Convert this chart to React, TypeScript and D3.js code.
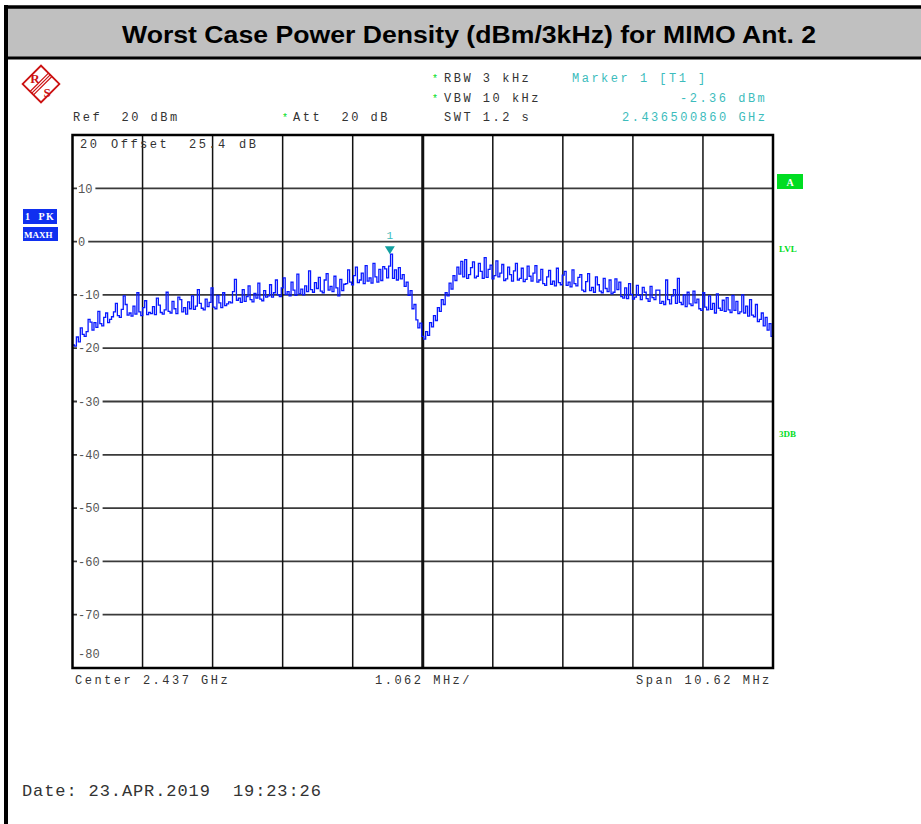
import * as d3 from 'd3';

// spectrum analyser screen: R&S style, ref 20 dBm, 10 dB/div, span 10.62 MHz
const title = 'Worst Case Power Density (dBm/3kHz) for MIMO Ant. 2';
const levelTicks = [10, 0, -10, -20, -30, -40, -50, -60, -70];
const spanMHz = 10.62;
const divMHz = 1.062;
const refLevel = 20;
const bottomLevel = -80;

// trace, max hold (dBm), left to right across the span
const traceLevels = [
  -19.4, -19.6, -17.9, -18.8, -16.2, -17.4, -17.8, -16.9, -14.6, -15.1, -16.6, -15.2, -16.1, -13.1, -15.4, -15.8, -14.2, -13.4, -15.2, -14.6,
  -14.1, -13.2, -11.6, -13.9, -14.2, -12.7, -10.2, -11.8, -13.8, -13.4, -14.0, -12.1, -13.6, -9.6, -13.2, -13.9, -12.4, -11.1, -13.7, -13.3,
  -13.5, -12.2, -13.7, -10.6, -11.9, -13.3, -13.6, -12.8, -9.5, -13.1, -13.4, -11.2, -12.6, -13.5, -10.4, -10.9, -13.2, -12.4, -13.6, -11.3,
  -12.6, -10.2, -12.7, -12.1, -9.0, -11.6, -12.5, -12.8, -10.8, -12.2, -11.4, -8.7, -12.3, -12.6, -10.1, -11.5, -12.4, -9.6, -12.0, -11.7,
  -11.3, -11.5, -9.4, -7.1, -11.0, -10.6, -11.4, -9.0, -11.2, -10.3, -8.3, -10.9, -11.3, -9.7, -10.6, -7.8, -10.8, -11.1, -9.2, -10.4,
  -10.2, -8.1, -10.4, -9.6, -7.2, -10.0, -10.3, -8.7, -6.8, -9.9, -9.4, -10.2, -7.6, -9.1, -10.1, -6.1, -9.8, -8.9, -10.0, -8.3,
  -9.4, -5.5, -9.0, -9.5, -7.7, -8.8, -6.7, -9.3, -9.6, -7.2, -6.0, -9.1, -8.4, -9.4, -6.5, -8.7, -10.2, -7.1, -9.2, -8.0,
  -7.9, -5.3, -7.6, -8.1, -6.4, -4.8, -7.7, -7.2, -5.9, -7.9, -4.5, -7.4, -6.8, -7.8, -4.1, -6.6, -7.6, -5.2, -7.3, -4.7,
  -5.1, -6.8, -4.6, -2.36, -6.9, -5.3, -7.2, -4.9, -7.0, -6.2, -8.4, -7.6, -10.1, -9.2, -12.6, -11.8, -14.7, -16.2, -15.3, -17.8,
  -18.3, -16.9, -17.6, -15.2, -16.0, -13.9, -14.8, -12.4, -13.1, -10.9, -11.8, -9.6, -10.2, -7.8, -8.9, -6.4, -7.3, -4.8, -6.1, -3.7,
  -6.6, -3.4, -6.9, -6.2, -4.9, -3.8, -6.8, -6.5, -4.1, -5.6, -6.9, -3.0, -6.7, -5.2, -4.4, -7.0, -6.4, -3.6, -6.6, -5.9,
  -4.3, -7.3, -7.0, -4.8, -6.2, -7.4, -5.5, -4.1, -7.2, -6.9, -5.0, -7.5, -7.1, -4.6, -6.5, -7.4, -5.9, -4.5, -7.6, -7.2,
  -5.2, -7.9, -8.2, -6.6, -5.4, -8.0, -7.4, -8.3, -5.0, -7.7, -8.1, -6.3, -5.6, -8.2, -7.6, -8.5, -5.3, -7.9, -8.3, -6.7,
  -6.2, -9.1, -9.4, -7.5, -6.0, -9.2, -8.6, -9.5, -6.6, -8.1, -9.3, -9.6, -6.9, -8.8, -9.4, -7.2, -9.8, -9.5, -7.0, -9.0,
  -7.6, -10.3, -10.6, -8.7, -10.7, -7.9, -9.9, -10.8, -10.4, -8.2, -10.1, -10.9, -8.6, -9.5, -10.7, -11.2, -8.4, -10.5, -10.9, -9.1,
  -9.1, -11.6, -11.2, -11.8, -7.2, -10.9, -11.7, -10.2, -9.0, -11.6, -6.9, -11.4, -11.8, -10.0, -12.2, -9.5, -11.7, -12.0, -9.3, -11.5,
  -10.8, -12.6, -12.9, -9.6, -12.3, -12.8, -10.2, -12.7, -11.6, -13.4, -9.8, -12.5, -12.9, -11.0, -13.1, -10.5, -12.8, -13.3, -10.1, -12.9,
  -11.2, -13.5, -13.2, -10.0, -13.4, -12.1, -14.0, -10.9, -13.8, -14.1, -11.8, -15.0, -14.6, -13.4, -15.8, -14.2, -16.6, -15.4, -17.8, -20.6,
];

// marker 1 at 2.436500860 GHz, centre 2.437 GHz -> offset in MHz
const markerOffsetMHz = -0.49914;
const markerLevel = -2.36;

const mono = "'Liberation Mono', 'Courier New', monospace";
const serif = "'Liberation Serif', 'Times New Roman', serif";
const hdrColor = '#333333';
const teal = '#3cbcbc';
const green = '#00dd22';
const traceBlue = '#0818ff';
const logoRed = '#cc1111';

export default function App() {
  const width = 921;
  const height = 824;
  const plot = { left: 72.5, right: 773, top: 135, bottom: 668 };

  const x = d3.scaleLinear().domain([-spanMHz / 2, spanMHz / 2]).range([plot.left, plot.right]);
  const y = d3.scaleLinear().domain([bottomLevel, refLevel]).range([plot.bottom, plot.top]);

  const n = traceLevels.length;
  const freqs = traceLevels.map((_, i) => -spanMHz / 2 + (i * spanMHz) / (n - 1));
  const line = d3.line<number>()
    .x((_, i) => x(freqs[i]))
    .y(d => y(d))
    .curve(d3.curveStepAfter);

  const vDivs = d3.range(1, 10).map(k => -spanMHz / 2 + k * divMHz);

  const hdr = { fontFamily: mono, fontSize: 12, letterSpacing: 2.5, fill: hdrColor, whiteSpace: 'pre' as const };
  const lbl = { fontFamily: mono, fontSize: 12, fill: '#555555' };
  const star = { fontFamily: mono, fontSize: 10 };

  const mx = x(markerOffsetMHz);
  const my = y(markerLevel);

  return (
    <svg width={width} height={height} style={{ position: 'absolute', left: 0, top: 0, background: '#fff' }}>
      {/* frame + title band */}
      <rect x={0} y={0} width={width} height={height} fill="#fff" />
      <rect x={7} y={8} width={width} height={50} fill="#c0c0c0" />
      <line x1={4} x2={width} y1={7} y2={7} stroke="#000" strokeWidth={3.5} />
      <line x1={4} x2={width} y1={58} y2={58} stroke="#000" strokeWidth={3} />
      <line x1={6} x2={6} y1={5} y2={height} stroke="#000" strokeWidth={4} />
      <text x={469} y={42.5} textAnchor="middle" textLength={694} lengthAdjust="spacingAndGlyphs"
        style={{ fontFamily: "'Liberation Sans', Arial, sans-serif", fontWeight: 'bold', fontSize: 23.5 }} fill="#000">
        {title}
      </text>

      {/* R&S logo */}
      <g transform="translate(41,84) rotate(45)">
        <rect x={-13} y={-13} width={26} height={26} fill="none" stroke={logoRed} strokeWidth={1.8} />
        {[-2.4, 0, 2.4].map(s => (
          <line key={s} x1={s} x2={s} y1={-13} y2={13} stroke={logoRed} strokeWidth={1.2} />
        ))}
      </g>
      <text x={35} y={83} textAnchor="middle" style={{ fontFamily: serif, fontWeight: 'bold', fontSize: 13 }} fill={logoRed}>R</text>
      <text x={47} y={97} textAnchor="middle" style={{ fontFamily: serif, fontWeight: 'bold', fontSize: 13 }} fill={logoRed}>S</text>

      {/* header */}
      <text x={432} y={82} style={star} fill={green}>*</text>
      <text x={444} y={82} style={hdr}>RBW 3 kHz</text>
      <text x={432} y={102} style={star} fill={green}>*</text>
      <text x={444} y={102} style={hdr}>VBW 10 kHz</text>
      <text x={73} y={121} style={hdr}>Ref  20 dBm</text>
      <text x={282} y={121} style={star} fill={green}>*</text>
      <text x={293} y={121} style={hdr}>Att  20 dB</text>
      <text x={444} y={121} style={hdr}>SWT 1.2 s</text>
      <text x={572} y={82} style={{ ...hdr, fill: teal }}>Marker 1 [T1 ]</text>
      <text x={680} y={102} style={{ ...hdr, fill: teal }}>-2.36 dBm</text>
      <text x={622} y={121} style={{ ...hdr, fill: teal }}>2.436500860 GHz</text>

      {/* trace labels on the left */}
      <rect x={23} y={209} width={34} height={15} fill="#1030f0" />
      <text x={25} y={220} style={{ fontFamily: serif, fontSize: 10, fontWeight: 'bold', letterSpacing: 1.2, whiteSpace: 'pre' }} fill="#fff">1  PK</text>
      <rect x={23} y={227} width={35} height={14} fill="#1030f0" />
      <text x={24} y={237.5} style={{ fontFamily: serif, fontSize: 9, fontWeight: 'bold' }} fill="#fff">MAXH</text>

      {/* right side flags */}
      <rect x={777} y={174} width={26} height={15} fill={green} />
      <text x={790} y={185.5} textAnchor="middle" style={{ fontFamily: serif, fontSize: 10, fontWeight: 'bold' }} fill="#fff">A</text>
      <text x={779} y={252} style={{ fontFamily: serif, fontSize: 9, fontWeight: 'bold' }} fill={green}>LVL</text>
      <text x={779} y={437} style={{ fontFamily: serif, fontSize: 9, fontWeight: 'bold' }} fill={green}>3DB</text>

      {/* grid */}
      {levelTicks.map(v => (
        <line key={'h' + v} x1={plot.left} x2={plot.right} y1={y(v)} y2={y(v)} stroke="#3a3a3a" strokeWidth={1.8} />
      ))}
      {vDivs.map((f, k) => (
        <line key={'v' + k} x1={x(f)} x2={x(f)} y1={plot.top} y2={plot.bottom}
          stroke="#111" strokeWidth={k === 4 ? 3 : 1.5} />
      ))}
      {levelTicks.map(v => {
        const t = String(v);
        return (
          <g key={'l' + v}>
            <rect x={77} y={y(v) - 6} width={t.length * 7.2 + 4} height={12} fill="#fff" />
            <text x={78} y={y(v)} dy="0.35em" style={lbl}>{t}</text>
          </g>
        );
      })}
      <text x={78} y={654} dy="0.35em" style={lbl}>-80</text>
      <text x={80} y={148} style={hdr}>20</text>
      <text x={111} y={148} style={hdr}>Offset</text>
      <text x={189} y={148} style={hdr}>25.4</text>
      <text x={239} y={148} style={hdr}>dB</text>

      {/* trace */}
      <path d={line(traceLevels) ?? ''} fill="none" stroke={traceBlue} strokeWidth={1.3} strokeLinejoin="miter" />

      {/* marker */}
      <path d={`M${mx - 5},${my - 8} L${mx + 5},${my - 8} L${mx},${my} Z`} fill="#11a0a0" />
      <text x={mx} y={my - 15} textAnchor="middle" style={{ fontFamily: mono, fontSize: 11 }} fill={teal}>1</text>

      {/* plot border */}
      <rect x={plot.left} y={plot.top} width={plot.right - plot.left} height={plot.bottom - plot.top}
        fill="none" stroke="#000" strokeWidth={2.5} />

      {/* footer */}
      <text x={75} y={684} style={hdr}>Center 2.437 GHz</text>
      <text x={375} y={684} style={hdr}>1.062 MHz/</text>
      <text x={636} y={684} style={hdr}>Span 10.62 MHz</text>
      <text x={22} y={796} style={{ fontFamily: mono, fontSize: 17, letterSpacing: 0.9, fill: hdrColor, whiteSpace: 'pre' }}>Date: 23.APR.2019  19:23:26</text>
    </svg>
  );
}
